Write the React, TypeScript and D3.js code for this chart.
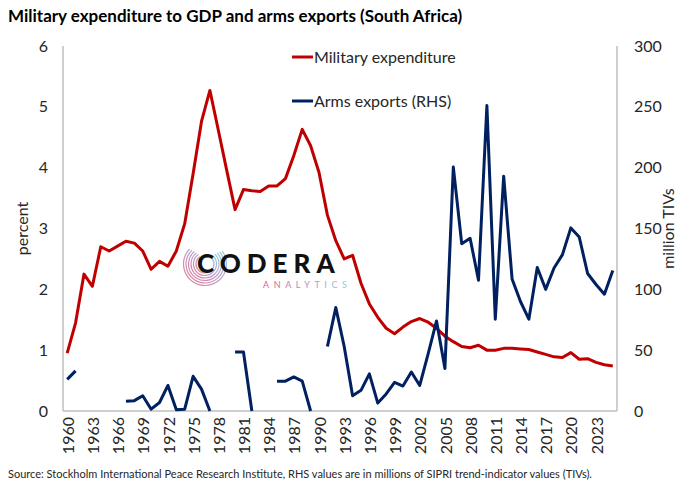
import React from "react";
import * as d3 from "d3";

const years: number[] = d3.range(1960, 2026);

const militaryExpenditure: number[] = [
  0.95, 1.45, 2.25, 2.05, 2.7, 2.63, 2.71, 2.79, 2.76, 2.63,
  2.33, 2.46, 2.38, 2.63, 3.08, 3.9, 4.76, 5.27, 4.62, 3.96,
  3.31, 3.64, 3.62, 3.61, 3.7, 3.7, 3.82, 4.2, 4.63, 4.36,
  3.92, 3.22, 2.8, 2.5, 2.56, 2.1, 1.76, 1.54, 1.36, 1.27,
  1.38, 1.47, 1.52, 1.46, 1.36, 1.23, 1.14, 1.06, 1.04, 1.08,
  1.0, 1.0, 1.03, 1.03, 1.02, 1.01, 0.97, 0.93, 0.89, 0.88,
  0.96, 0.85, 0.86, 0.8, 0.76, 0.74,
];

const armsExports: (number | null)[] = [
  26, 33, null, null, null, null, null, 8, 8.5, 12.5,
  1.5, 7, 21, 1, 1.5, 28.5, 18, 0, null, null,
  48.5, 48.5, 0, null, null, 24.5, 24.5, 28, 24.5, 0,
  null, 53, 85, 53, 12.5, 17, 30.5, 6.5, 14, 23.5,
  20.5, 32, 21, 47, 74, 35, 200.5, 137.5, 142, 107.5,
  251, 75.5, 193, 108.5, 90, 75.5, 118, 100, 117.5, 128.5,
  150.5, 143, 113, 104, 96, 115.5,
];

const leftTicks: number[] = [0, 1, 2, 3, 4, 5, 6];
const rightTicks: number[] = [0, 50, 100, 150, 200, 250, 300];
const xTickYears: number[] = d3.range(1960, 2024, 3);

const title = "Military expenditure to GDP and arms exports (South Africa)";
const seriesNames = ["Military expenditure", "Arms exports (RHS)"];
const leftAxisTitle = "percent";
const rightAxisTitle = "million TIVs";
const source =
  "Source: Stockholm International Peace Research Institute, RHS values are in millions of SIPRI trend-indicator values (TIVs).";

const RED = "#C00000";
const BLUE = "#002060";
const FONT = "Lato, 'Open Sans', sans-serif";

export default function App() {
  const left = 63;
  const right = 617;
  const top = 46;
  const bottom = 411;

  const x = d3.scaleBand<number>().domain(years).range([left, right]).padding(0);
  const cx = (yr: number) => (x(yr) as number) + x.bandwidth() / 2;
  const yL = d3.scaleLinear().domain([0, 6]).range([bottom, top]);
  const yR = d3.scaleLinear().domain([0, 300]).range([bottom, top]);

  const redLine = d3
    .line<number>()
    .x((_, i) => cx(years[i]))
    .y((d) => yL(d));
  const blueLine = d3
    .line<number | null>()
    .defined((d) => d !== null)
    .x((_, i) => cx(years[i]))
    .y((d) => yR(d as number));

  const iconCx = 205;
  const iconCy = 264;
  const arcRadii = [9, 11.5, 14, 16.5, 19, 21.5];
  const arcGen = d3.arc();

  return (
    <svg
      width={680}
      height={494}
      style={{ position: "absolute", left: 0, top: 0, background: "#fff" }}
      fontFamily={FONT}
    >
      <defs>
        <linearGradient id="iconGrad" x1="0" y1="1" x2="1" y2="0">
          <stop offset="0%" stopColor="#E0607E" />
          <stop offset="50%" stopColor="#B58BC4" />
          <stop offset="100%" stopColor="#6FD0E4" />
        </linearGradient>
        <linearGradient id="textGrad" x1="0" y1="0" x2="1" y2="0">
          <stop offset="0%" stopColor="#D9667F" />
          <stop offset="50%" stopColor="#B08ACB" />
          <stop offset="100%" stopColor="#8FD3E8" />
        </linearGradient>
      </defs>
      <rect x={0} y={0} width={680} height={494} fill="#fff" />

      <text x={8} y={22} fontSize={17} fontWeight={700} fill="#000">
        {title}
      </text>

      <line x1={left} y1={top} x2={left} y2={bottom} stroke="#BFBFBF" strokeWidth={1.5} />
      <line x1={right} y1={top} x2={right} y2={bottom} stroke="#BFBFBF" strokeWidth={1.5} />
      <line x1={left} y1={bottom} x2={right} y2={bottom} stroke="#BFBFBF" strokeWidth={1.5} />

      {leftTicks.map((t) => (
        <text key={"l" + t} x={48} y={yL(t)} dy="0.35em" textAnchor="end" fontSize={16} fill="#262626">
          {t}
        </text>
      ))}
      {rightTicks.map((t) => (
        <text key={"r" + t} x={634} y={yR(t)} dy="0.35em" textAnchor="start" fontSize={16} fill="#262626">
          {t}
        </text>
      ))}
      {xTickYears.map((yr) => (
        <text
          key={"x" + yr}
          transform={`translate(${cx(yr) + 1},${bottom + 6}) rotate(-90)`}
          dy="0.35em"
          textAnchor="end"
          fontSize={16}
          fill="#262626"
        >
          {yr}
        </text>
      ))}

      <text transform={`translate(22,${(top + bottom) / 2}) rotate(-90)`} dy="0.35em" textAnchor="middle" fontSize={16} fill="#262626">
        {leftAxisTitle}
      </text>
      <text transform={`translate(668,${(top + bottom) / 2}) rotate(-90)`} dy="0.35em" textAnchor="middle" fontSize={16} fill="#262626">
        {rightAxisTitle}
      </text>

      <g>
        {arcRadii.map((r, i) => (
          <path
            key={"arc" + i}
            transform={`translate(${iconCx},${iconCy})`}
            d={arcGen({
              innerRadius: r - 0.6,
              outerRadius: r + 0.6,
              startAngle: Math.PI * (0.22 + i * 0.015),
              endAngle: Math.PI * (1.82 - i * 0.015),
            } as any) as string}
            fill="url(#iconGrad)"
            opacity={0.85}
          />
        ))}
        <text x={197} y={273} fontSize={26} fontWeight={900} letterSpacing={6} fill="#111">
          CODERA
        </text>
        <text x={263} y={288} fontSize={9} letterSpacing={4.6} fill="url(#textGrad)">
          ANALYTICS
        </text>
      </g>

      <path d={redLine(militaryExpenditure) as string} fill="none" stroke={RED} strokeWidth={3} strokeLinejoin="round" />
      <path d={blueLine(armsExports) as string} fill="none" stroke={BLUE} strokeWidth={3} strokeLinejoin="round" />

      <line x1={292} x2={313} y1={57} y2={57} stroke={RED} strokeWidth={3} />
      <text x={314} y={57} dy="0.35em" fontSize={16} fill="#262626">
        {seriesNames[0]}
      </text>
      <line x1={292} x2={313} y1={101} y2={101} stroke={BLUE} strokeWidth={3} />
      <text x={314} y={101} dy="0.35em" fontSize={16} fill="#262626">
        {seriesNames[1]}
      </text>

      <text x={8} y={478} fontSize={11} fill="#262626">
        {source}
      </text>
    </svg>
  );
}
